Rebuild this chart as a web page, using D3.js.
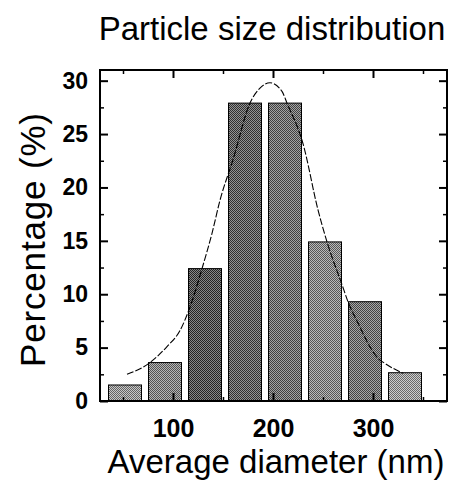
<!DOCTYPE html>
<html>
<head>
<meta charset="utf-8">
<script src="https://cdn.jsdelivr.net/npm/d3@7"></script>
<style>
body { margin: 0; background: #fff; }
svg { display: block; font-family: "Liberation Sans", Arial, sans-serif; }
</style>
</head>
<body>
<svg id="chart" width="454" height="487"></svg>
<script>
// histogram bins (nm) and percentages
var binCenters = [52, 92, 132, 172, 212, 252, 292, 332];
var percentages = [1.5, 3.6, 12.4, 27.9, 27.9, 14.9, 9.3, 2.65];

// fitted curve, read point by point
var curveX = [54, 77, 94, 107, 117, 129, 139, 147, 160, 177, 187, 197, 209, 214, 230, 245, 254, 269, 275, 285, 304, 314, 330];
var curveY = [2.5, 3.6, 5.1, 6.6, 8.8, 12.4, 15.7, 18.8, 22.6, 27.9, 29.3, 29.8, 29.0, 27.9, 24.1, 17.9, 14.9, 10.9, 9.3, 7.3, 4.1, 3.4, 2.6];

var xMajor = [100, 200, 300];
var xMinor = [50, 150, 250, 350];
var yMajor = [0, 5, 10, 15, 20, 25, 30];
var yMinor = [2.5, 7.5, 12.5, 17.5, 22.5, 27.5];

var barShades = [150, 132, 86, 98, 114, 136, 118, 156];
var binWidth = 33;

// note: "top" is taken by window.top, so plain names for the frame
var plotL = 100, plotR = 447, plotT = 70, plotB = 401;

var svg = d3.select('#chart');

var x = d3.scaleLinear().domain([27, 374]).range([plotL, plotR]);
var y = d3.scaleLinear().domain([0, 31]).range([plotB, plotT]);

function grey(v) {
    v = Math.max(0, Math.min(255, v));
    return d3.rgb(v, v, v).toString();
}

// dithered fills, like the scanned original
var defs = svg.append('defs');
barShades.forEach(function (s, i) {
    var p = defs.append('pattern')
        .attr('id', 'dither' + i)
        .attr('width', 2).attr('height', 2)
        .attr('patternUnits', 'userSpaceOnUse');
    p.append('rect').attr('width', 2).attr('height', 2).attr('fill', grey(s + 50));
    p.append('rect').attr('width', 1).attr('height', 1).attr('fill', grey(s - 50));
    p.append('rect').attr('x', 1).attr('y', 1).attr('width', 1).attr('height', 1).attr('fill', grey(s - 50));
});

// bars
svg.append('g')
    .selectAll('rect')
    .data(binCenters)
    .enter()
    .append('rect')
    .attr('x', function (d) { return x(d - binWidth / 2); })
    .attr('width', function (d) { return x(d + binWidth / 2) - x(d - binWidth / 2); })
    .attr('y', function (d, i) { return y(percentages[i]); })
    .attr('height', function (d, i) { return y(0) - y(percentages[i]); })
    .attr('fill', function (d, i) { return 'url(#dither' + i + ')'; })
    .attr('stroke', '#000')
    .attr('stroke-width', 1);

// dashed curve
var pts = curveX.map(function (v, i) { return [v, curveY[i]]; });
svg.append('path')
    .datum(pts)
    .attr('d', d3.line()
        .x(function (d) { return x(d[0]); })
        .y(function (d) { return y(d[1]); })
        .curve(d3.curveMonotoneX))
    .attr('fill', 'none')
    .attr('stroke', '#000')
    .attr('stroke-width', 1.1)
    .attr('stroke-dasharray', '7,2');

// frame with inward ticks on all four sides
function drawAxis(maker, scale, pos, major, minor, fontSize) {
    var gMin = svg.append('g').attr('transform', pos)
        .call(maker(scale).tickValues(minor).tickFormat('').tickSizeInner(-4).tickSizeOuter(0));
    gMin.select('.domain').remove();
    gMin.selectAll('line').attr('stroke-width', 1.5);

    var gMaj = svg.append('g').attr('transform', pos)
        .call(maker(scale).tickValues(major).tickSizeInner(-8).tickSizeOuter(0).tickPadding(12));
    gMaj.select('.domain').remove();
    gMaj.selectAll('line').attr('stroke-width', 2);
    if (fontSize) {
        gMaj.selectAll('text')
            .attr('fill', '#000')
            .style('font-family', '"Liberation Sans", Arial, sans-serif')
            .style('font-weight', 'bold')
            .style('font-size', fontSize + 'px');
    } else {
        gMaj.selectAll('text').remove();
    }
    return gMaj;
}

drawAxis(d3.axisBottom, x, 'translate(0,' + plotB + ')', xMajor, xMinor, 25)
    .selectAll('text').attr('dy', '0.95em');
drawAxis(d3.axisTop, x, 'translate(0,' + plotT + ')', xMajor, xMinor, 0);
drawAxis(d3.axisLeft, y, 'translate(' + plotL + ',0)', yMajor, yMinor, 23);
drawAxis(d3.axisRight, y, 'translate(' + plotR + ',0)', yMajor, yMinor, 0);

svg.append('rect')
    .attr('x', plotL).attr('y', plotT)
    .attr('width', plotR - plotL).attr('height', plotB - plotT)
    .attr('fill', 'none')
    .attr('stroke', '#000')
    .attr('stroke-width', 2);

// titles
svg.append('text')
    .attr('x', 272).attr('y', 40)
    .attr('text-anchor', 'middle')
    .style('font-size', '33px')
    .text('Particle size distribution');

svg.append('text')
    .attr('x', 276).attr('y', 473)
    .attr('text-anchor', 'middle')
    .style('font-size', '33px')
    .text('Average diameter (nm)');

svg.append('text')
    .attr('transform', 'translate(45,240) rotate(-90)')
    .attr('text-anchor', 'middle')
    .attr('textLength', 254)
    .attr('lengthAdjust', 'spacing')
    .style('font-size', '35px')
    .text('Percentage (%)');
</script>
</body>
</html>
